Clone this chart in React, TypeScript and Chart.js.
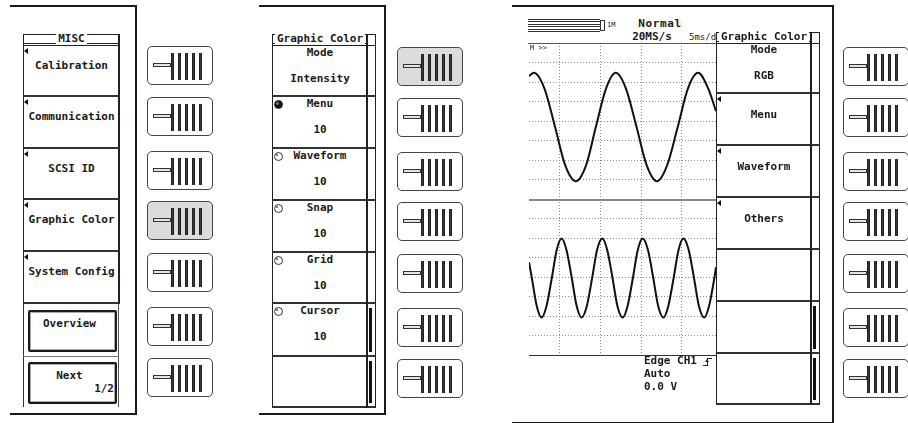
import React, { useEffect, useRef } from 'react';
import { Chart, registerables } from 'chart.js';
Chart.register(...registerables);

// ---- data (time in divisions, amplitude in divisions) ----
const upperTime = [0.25, 0.37, 0.63, 0.89, 1.14, 1.40, 1.65, 1.89, 2.14, 2.38, 2.63, 2.89, 3.14, 3.39, 3.64, 3.90, 4.15, 4.40, 4.65, 4.84];
const upperVolts = [2.30, 2.47, 1.66, -0.31, -2.28, -3.09, -2.28, -0.31, 1.66, 2.47, 1.66, -0.31, -2.28, -3.09, -2.28, -0.31, 1.66, 2.47, 1.66, 0.5];
const lowerTime = [0.25, 0.32, 0.44, 0.56, 0.68, 0.81, 0.93, 1.05, 1.17, 1.30, 1.42, 1.54, 1.67, 1.80, 1.92, 2.05, 2.17, 2.30, 2.42, 2.55, 2.67, 2.80, 2.92, 3.04, 3.17, 3.30, 3.42, 3.55, 3.67, 3.80, 3.92, 4.04, 4.17, 4.30, 4.42, 4.55, 4.67, 4.80, 4.84];
const lowerVolts = [0.76, -0.05, -1.49, -2.08, -1.49, -0.05, 1.39, 1.98, 1.39, -0.05, -1.49, -2.08, -1.49, -0.05, 1.39, 1.98, 1.39, -0.05, -1.49, -2.08, -1.49, -0.05, 1.39, 1.98, 1.39, -0.05, -1.49, -2.08, -1.49, -0.05, 1.39, 1.98, 1.39, -0.05, -1.49, -2.08, -1.49, -0.05, 0.5];
const xGridDivs = [1, 2, 3, 4];
const yGridDivs = [-3, -2, -1, 0, 1, 2, 3];

const miscTitle = 'MISC';
const miscMenu = ['Calibration', 'Communication', 'SCSI ID', 'Graphic Color', 'System Config'];
const miscButtons = ['Overview', 'Next'];
const colorTitle = 'Graphic Color';
const colorLabels = ['Mode', 'Menu', 'Waveform', 'Snap', 'Grid', 'Cursor', ''];
const colorValues = ['Intensity', '10', '10', '10', '10', '10', ''];
const rgbLabels = ['Mode', 'Menu', 'Waveform', 'Others', '', '', ''];
const rgbValues = ['RGB', '', '', '', '', '', ''];
const triggerLines = ['Edge CH1', 'Auto', '0.0 V'];

const FONT = "'DejaVu Sans Mono','Liberation Mono',monospace";
const INK = '#1a1a1a';

const abs = (x: number, y: number, w: number, h: number): React.CSSProperties => ({
  position: 'absolute', left: x, top: y, width: w, height: h, boxSizing: 'border-box',
});

function Ln({ x, y, w, h, c = '#1a1a1a' }: any) {
  return <div style={{ ...abs(x, y, w, h), background: c }} />;
}

function T({ x, y, w, text, size = 11, bold = true, align = 'center', ls = 0, bg }: any) {
  return (
    <div style={{ ...abs(x, y - 7, w, 14), lineHeight: '14px', fontSize: size, fontFamily: FONT, fontWeight: bold ? 700 : 400, textAlign: align, color: INK, whiteSpace: 'pre', letterSpacing: ls }}>
      {bg ? <span style={{ background: '#fff', padding: '0 2px' }}>{text}</span> : text}
    </div>
  );
}

function Tri({ x, y }: any) {
  return <div style={{ position: 'absolute', left: x, top: y, width: 0, height: 0, borderTop: '3px solid transparent', borderBottom: '3px solid transparent', borderRight: '4px solid #111' }} />;
}

function Knob({ x, y, filled }: any) {
  return (
    <div style={{ ...abs(x - 4, y - 4, 9, 9), borderRadius: '50%', border: '1px solid #333', background: filled ? '#111' : '#fff' }}>
      {filled ? <div style={{ ...abs(1, 1, 3, 3), borderRadius: '50%', background: '#777' }} /> : <div style={{ ...abs(1, 1, 2, 2), borderRadius: '50%', background: '#555' }} />}
    </div>
  );
}

function SoftKey({ x, y, hi }: any) {
  return (
    <div style={{ ...abs(x, y, 66, 39), border: '1.5px solid #444', borderRadius: 5, background: hi ? '#dcdcdc' : '#fff' }}>
      <div style={{ ...abs(4.5, 15.5, 18, 4), border: '1px solid #333', background: '#e4e4e4' }} />
      {[23, 30, 37, 44, 51].map((o) => (
        <div key={o} style={{ ...abs(o, 5.5, 3, 27), background: '#3a3a3a', borderLeft: '1px solid #222', borderRight: '1px solid #222' }} />
      ))}
    </div>
  );
}

function Title({ x, y, w, inner, text }: any) {
  return (
    <>
      <div style={{ ...abs(x, y, w, 12), borderTop: '1px solid #222', borderLeft: '1px solid #222', borderRight: '1px solid #222', borderBottom: '1px solid #222' }} />
      <Ln x={x} y={y + 9} w={inner} h={1} c="#222" />
      <Ln x={x + inner - 2} y={y} w={2} h={12} c="#222" />
      <T x={x} y={y + 5} w={inner} text={text} bg />
    </>
  );
}

const keyTops = [46, 97, 151, 201, 253, 307, 358];

function Frame({ x, w, bottom }: any) {
  return (
    <>
      <Ln x={x} y={5} w={w} h={2} />
      <Ln x={x + w - 2} y={5} w={2} h={bottom - 5} />
      <Ln x={x} y={bottom - 1} w={w} h={2} />
    </>
  );
}

function Scope() {
  const ref = useRef<HTMLCanvasElement>(null);
  useEffect(() => {
    const grid = { color: '#8c8c8c', lineWidth: 1, drawTicks: false };
    const border = { display: false, dash: [1, 2] };
    const yAxis = (weight: number) => ({
      type: 'linear' as const, min: -4, max: 4, position: 'left' as const, stack: 'scope', stackWeight: 1, weight,
      ticks: { display: false }, grid, border,
      afterBuildTicks: (ax: any) => { ax.ticks = yGridDivs.map((v) => ({ value: v })); },
    });
    const chart = new Chart(ref.current!, {
      type: 'line',
      data: {
        datasets: [
          { data: upperTime.map((x, i) => ({ x, y: upperVolts[i] })), yAxisID: 'yU', borderColor: '#111', borderWidth: 2, pointRadius: 0, cubicInterpolationMode: 'monotone' },
          { data: lowerTime.map((x, i) => ({ x, y: lowerVolts[i] })), yAxisID: 'yL', borderColor: '#111', borderWidth: 2, pointRadius: 0, cubicInterpolationMode: 'monotone' },
        ],
      },
      options: {
        animation: false, responsive: false, maintainAspectRatio: false,
        layout: { padding: 0 },
        plugins: { legend: { display: false }, tooltip: { enabled: false } },
        scales: {
          x: {
            type: 'linear', min: 0.25, max: 4.84, ticks: { display: false }, grid, border,
            afterBuildTicks: (ax: any) => { ax.ticks = xGridDivs.map((v) => ({ value: v })); },
          },
          yU: yAxis(2),
          yL: yAxis(1),
        },
      } as any,
    });
    return () => chart.destroy();
  }, []);
  return <canvas ref={ref} width={187} height={312} style={{ position: 'absolute', left: 529, top: 43, width: 187, height: 312 }} />;
}

export default function App() {
  const p1Tops = [46, 97, 149, 200, 252, 304];
  const p2Tops = [46, 97, 149, 201, 253, 304, 357, 408];
  const p3Tops = [44, 94, 146, 198, 250, 302, 354, 405];
  return (
    <div style={{ position: 'absolute', left: 0, top: 0, width: 908, height: 423, background: '#fff', overflow: 'hidden', fontFamily: FONT }}>
      {/* ---------- panel 1 ---------- */}
      <Frame x={10} w={127} bottom={414} />
      <Title x={23} y={34} w={97} inner={97} text={miscTitle} />
      {miscMenu.map((label, i) => {
        const top = p1Tops[i];
        const h = p1Tops[i + 1] - top;
        return (
          <React.Fragment key={label}>
            <div style={{ ...abs(23, top, 97, h), borderLeft: '1px solid #222', borderRight: '2px solid #222', borderBottom: '2px solid #333' }} />
            <Tri x={24} y={top + 2} />
            <T x={23} y={top + 20} w={97} text={label} />
          </React.Fragment>
        );
      })}
      <Ln x={23} y={304} w={1} h={103} c="#333" />
      <Ln x={118} y={304} w={1} h={103} c="#555" />
      <Ln x={23} y={356} w={96} h={1} c="#777" />
      <div style={{ ...abs(28, 310, 89, 42), border: '2px solid #1a1a1a', borderRadius: 2, boxShadow: 'inset 0 0 0 1px #aaa' }} />
      <div style={{ ...abs(28, 362, 89, 42), border: '2px solid #1a1a1a', borderRadius: 2, boxShadow: 'inset 0 0 0 1px #aaa' }} />
      <T x={28} y={324} w={83} text={miscButtons[0]} />
      <T x={28} y={376} w={83} text={miscButtons[1]} />
      <T x={28} y={389} w={86} text="1/2" align="right" />
      {keyTops.map((t, i) => <SoftKey key={i} x={147} y={t} hi={i === 3} />)}

      {/* ---------- panel 2 ---------- */}
      <Frame x={259} w={127} bottom={414} />
      <Title x={272} y={34} w={104} inner={96} text={colorTitle} />
      {colorLabels.map((label, i) => {
        const top = p2Tops[i];
        const h = p2Tops[i + 1] - top;
        return (
          <React.Fragment key={i}>
            <div style={{ ...abs(272, top, 104, h), borderLeft: '1px solid #222', borderRight: '1px solid #222', borderBottom: '2px solid #333' }} />
            <Ln x={366} y={top} w={2} h={h} c="#222" />
            {i >= 5 ? <Ln x={369} y={top + 4} w={3} h={h - 9} c="#111" /> : null}
            {i >= 1 && i <= 5 ? <Knob x={278} y={top + 7} filled={i === 1} /> : null}
            <T x={272} y={top + 7} w={96} text={label} />
            <T x={272} y={top + 33} w={96} text={colorValues[i]} />
          </React.Fragment>
        );
      })}
      {keyTops.map((t, i) => <SoftKey key={i} x={397} y={t + 1} hi={i === 0} />)}

      {/* ---------- panel 3 ---------- */}
      <Frame x={512} w={322} bottom={423} />
      {[19, 21, 24, 26, 29, 31].map((y) => <Ln key={y} x={528} y={y} w={72} h={1} c="#333" />)}
      <div style={{ ...abs(600, 20, 5, 11), border: '1px solid #333' }} />
      <T x={607} y={25} w={14} text="1M" size={7} bold={false} align="left" />
      <T x={620} y={24} w={80} text="Normal" ls={0.6} />
      <T x={620} y={37} w={64} text="20MS/s" />
      <T x={689} y={37} w={27} text="5ms/d" size={9} bold={false} align="left" />
      <Scope />
      <Ln x={528} y={43} w={188} h={1} c="#555" />
      <T x={530} y={48} w={30} text="M >>" size={7} bold={false} align="left" />
      <Ln x={529} y={199} w={187} h={2} c="#888" />
      <Ln x={529} y={355} w={187} h={1} c="#333" />
      {triggerLines.map((s, i) => <T key={s} x={644} y={361 + i * 13} w={70} text={s} align="left" />)}
      <Ln x={703} y={365} w={5} h={1} c="#222" />
      <Ln x={707} y={358} w={1} h={8} c="#222" />
      <Ln x={707} y={358} w={5} h={1} c="#222" />
      <div style={{ position: 'absolute', left: 705, top: 359, width: 0, height: 0, borderLeft: '2.5px solid transparent', borderRight: '2.5px solid transparent', borderBottom: '3px solid #222' }} />
      <Title x={716} y={32} w={104} inner={96} text={colorTitle} />
      {rgbLabels.map((label, i) => {
        const top = p3Tops[i];
        const h = p3Tops[i + 1] - top;
        return (
          <React.Fragment key={i}>
            <div style={{ ...abs(716, top, 104, h), background: '#fff', borderLeft: '1px solid #222', borderRight: '1px solid #222', borderBottom: '2px solid #333' }} />
            <Ln x={810} y={top} w={2} h={h} c="#222" />
            {i >= 5 ? <Ln x={813} y={top + 4} w={3} h={h - 9} c="#111" /> : null}
            {i >= 1 && i <= 3 ? <Tri x={717} y={top + 2} /> : null}
            {i === 0 ? (
              <>
                <T x={716} y={top + 6} w={96} text={label} />
                <T x={716} y={top + 32} w={96} text={rgbValues[i]} />
              </>
            ) : (
              <T x={716} y={top + 21} w={96} text={label} />
            )}
          </React.Fragment>
        );
      })}
      {keyTops.map((t, i) => <SoftKey key={i} x={843} y={t + 1} hi={false} />)}
    </div>
  );
}
